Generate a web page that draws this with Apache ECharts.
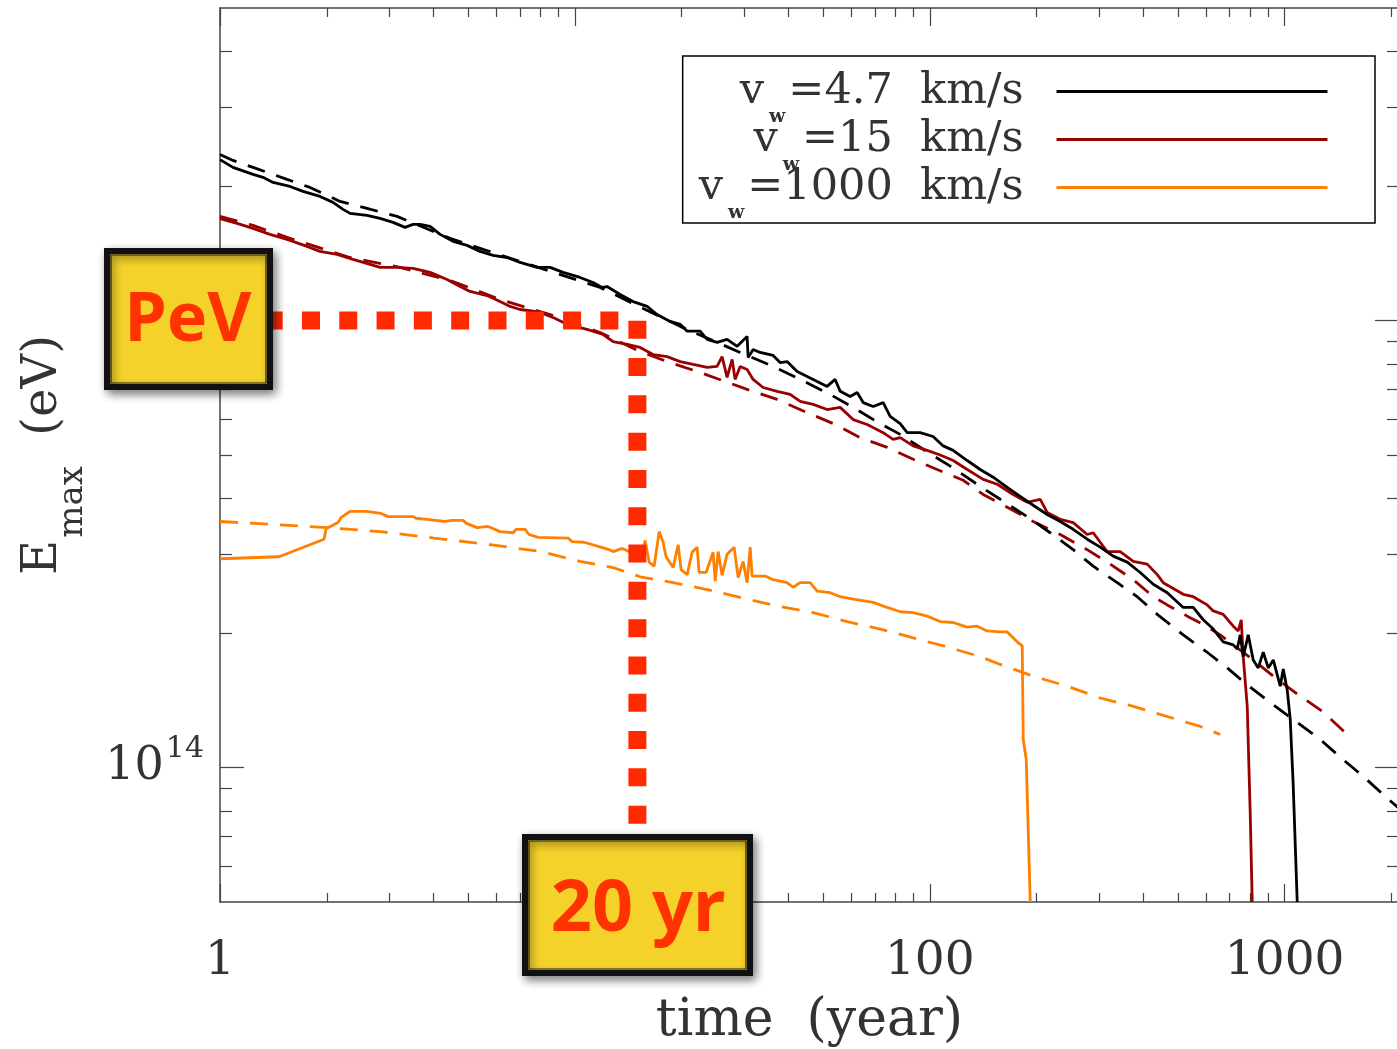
<!DOCTYPE html>
<html><head><meta charset="utf-8">
<script src="https://cdn.jsdelivr.net/npm/echarts@6/dist/echarts.min.js"></script>
<style>html,body{margin:0;padding:0;background:#fff}#c{width:1397px;height:1049px}</style>
</head><body><div id="c"></div>
<script>
// ---------- data (time in years, Emax in eV) ----------
const xTickLabels = [1, 10, 100, 1000];
const xMinorTicks = [2,3,4,5,6,7,8,9,20,30,40,50,60,70,80,90,200,300,400,500,600,700,800,900,2000];
const yTickLabels = [1e14, 1e15];
const yMinorTicks = [6e13,7e13,8e13,9e13,2e14,3e14,4e14,5e14,6e14,7e14,8e14,9e14,2e15,3e15,4e15];

const legendNames = ['v_w=4.7 km/s', 'v_w=15 km/s', 'v_w=1000 km/s'];
const legendValues = ['4.7', '15', '1000'];

const vw47Solid = [[1,22.9e14],[1.088,22.0e14],[1.239,21.22e14],[1.322,20.9e14],[1.411,20.36e14],[1.575,19.94e14],[1.714,19.44e14],[1.913,18.94e14],[2.082,18.37e14],[2.222,17.72e14],[2.325,17.36e14],[2.596,17.18e14],[2.825,16.91e14],[3.074,16.57e14],[3.322,16.15e14],[3.499,16.4e14],[3.662,16.4e14],[3.908,16.23e14],[4.17,15.58e14],[4.537,15.03e14],[4.968,14.72e14],[5.405,14.27e14],[5.882,13.98e14],[6.44,13.83e14],[7.008,13.48e14],[7.826,13.14e14],[8.514,13.14e14],[9.262,12.81e14],[10.34,12.48e14],[11.25,12.16e14],[11.93,11.85e14],[12.32,11.91e14],[13.41,11.43e14],[14.59,11.02e14],[15.98,10.75e14],[17.04,10.31e14],[18.55,9.95e14],[19.8,9.8e14],[20.72,9.46e14],[22.54,9.46e14],[23.59,9.07e14],[25.16,8.93e14],[26.85,9.07e14],[28.66,8.75e14],[30.57,9.21e14],[30.77,8.26e14],[31.79,8.61e14],[33.27,8.48e14],[36.19,8.35e14],[37.87,8.05e14],[39.63,8.09e14],[42.29,7.69e14],[46.93,7.38e14],[51.38,7.12e14],[54.13,7.38e14],[55.92,6.94e14],[59.67,6.76e14],[62.44,6.9e14],[64.92,6.55e14],[69.26,6.42e14],[73.91,6.55e14],[77.34,6.1e14],[82.54,5.88e14],[86.38,5.61e14],[93.96,5.61e14],[102.2,5.5e14],[109.1,5.24e14],[116.4,5.12e14],[127.5,4.86e14],[138.7,4.64e14],[150.9,4.46e14],[165.3,4.23e14],[179.8,4.04e14],[195.6,3.86e14],[214.2,3.68e14],[233.1,3.55e14],[253.6,3.41e14],[277.7,3.24e14],[302.2,3.11e14],[328.7,2.97e14],[360.1,2.88e14],[391.7,2.73e14],[426.3,2.57e14],[466.9,2.46e14],[517.9,2.28e14],[552.6,2.28e14],[589.7,2.14e14],[629.3,2.04e14],[671.3,1.91e14],[716.4,1.88e14],[735.2,1.84e14],[749.7,1.98e14],[764.3,1.77e14],[789.5,1.98e14],[815.6,1.74e14],[842.4,1.67e14],[870.3,1.81e14],[899.2,1.67e14],[928.8,1.74e14],[971.9,1.52e14],[990.9,1.66e14],[1017,1.49e14],[1037,1.28e14],[1057,0.915e14],[1085,0.5e14]];

const vw47Dashed = [[1,23.52e14],[1.088,22.8e14],[1.239,22.0e14],[1.545,20.68e14],[1.793,19.84e14],[2.179,18.46e14],[2.596,17.81e14],[3.154,17.09e14],[4.449,15.26e14],[7.008,13.55e14],[11.78,11.85e14],[19.8,9.7e14],[29.22,8.48e14],[36.19,7.89e14],[43.13,7.38e14],[52.4,6.83e14],[60.83,6.39e14],[71.08,5.93e14],[82.54,5.56e14],[95.8,5.15e14],[114.2,4.72e14],[136,4.3e14],[157.9,3.98e14],[188.2,3.64e14],[218.4,3.35e14],[253.6,3.07e14],[288.8,2.82e14],[337.5,2.59e14],[384.2,2.41e14],[437.5,2.2e14],[517.9,1.98e14],[605,1.81e14],[689,1.67e14],[784.5,1.53e14],[928.8,1.38e14],[1057,1.28e14],[1260,1.155e14],[1435,1.054e14],[1665,0.955e14],[1921,0.861e14],[2100,0.81e14]];

const vw15Solid = [[1,16.9e14],[1.117,16.48e14],[1.239,16.07e14],[1.383,15.58e14],[1.545,15.18e14],[1.759,14.64e14],[1.913,14.27e14],[2.137,14.05e14],[2.371,13.69e14],[2.647,13.35e14],[2.825,13.14e14],[3.154,13.14e14],[3.499,13.08e14],[3.908,12.81e14],[4.363,12.35e14],[4.747,11.91e14],[5.066,11.61e14],[5.657,11.37e14],[6.154,11.02e14],[6.568,10.75e14],[7.008,10.58e14],[7.826,10.47e14],[8.683,10.15e14],[9.506,9.8e14],[10.82,9.55e14],[12.01,9.3e14],[12.82,8.97e14],[14.04,8.84e14],[15.27,8.7e14],[16.61,8.39e14],[18.19,8.3e14],[19.8,8.09e14],[21.54,7.97e14],[23.59,7.85e14],[25.16,7.89e14],[25.99,8.3e14],[26.85,7.46e14],[27.74,8.18e14],[28.28,7.38e14],[29.22,7.89e14],[30.57,7.77e14],[31.79,7.38e14],[33.92,7.08e14],[37.15,6.94e14],[40.42,6.83e14],[43.13,6.59e14],[46.93,6.49e14],[51.38,6.32e14],[55.92,6.39e14],[60.83,6.0e14],[66.61,5.85e14],[73.91,5.61e14],[78.85,5.42e14],[82.54,5.47e14],[89.79,5.24e14],[98.3,5.12e14],[107,5.0e14],[116.4,4.86e14],[127.5,4.64e14],[141.4,4.41e14],[154.9,4.3e14],[171.8,4.08e14],[188.2,3.92e14],[204.8,3.98e14],[214.2,3.72e14],[233.1,3.59e14],[253.6,3.53e14],[277.7,3.32e14],[288.8,3.35e14],[302.2,3.19e14],[316.2,3.04e14],[344,3.04e14],[374.4,2.89e14],[409.9,2.85e14],[437.5,2.7e14],[454.9,2.59e14],[517.9,2.44e14],[552.6,2.41e14],[605,2.31e14],[629.3,2.24e14],[671.3,2.2e14],[716.4,2.07e14],[740,2.02e14],[754.6,2.14e14],[764.3,1.77e14],[784.5,1.37e14],[799.8,0.79e14],[810.3,0.5e14]];

const vw15Dashed = [[1,17.09e14],[1.239,16.32e14],[1.545,15.34e14],[2.325,13.83e14],[3.216,13.14e14],[4.449,12.29e14],[6.154,11.14e14],[8.514,10.31e14],[11.78,9.4e14],[15.27,8.52e14],[18.19,8.09e14],[22.54,7.65e14],[30.57,7.01e14],[37.15,6.66e14],[45.13,6.22e14],[53.43,5.88e14],[63.64,5.47e14],[75.86,5.2e14],[89.79,4.89e14],[104.9,4.64e14],[124.2,4.39e14],[141.4,4.08e14],[165.3,3.82e14],[195.6,3.55e14],[233.1,3.32e14],[277.7,3.07e14],[322.4,2.85e14],[374.4,2.63e14],[426.3,2.41e14],[466.9,2.31e14],[531.6,2.18e14],[589.7,2.09e14],[658.4,1.98e14],[716.4,1.88e14],[815.6,1.74e14],[928.8,1.6e14],[1085,1.46e14],[1285,1.33e14],[1501,1.185e14]];

const vw1000Solid = [[1,2.93e14],[1.467,2.96e14],[1.964,3.24e14],[1.99,3.42e14],[2.15,3.53e14],[2.193,3.62e14],[2.325,3.74e14],[2.579,3.74e14],[2.843,3.7e14],[2.975,3.64e14],[3.499,3.64e14],[3.567,3.61e14],[3.832,3.59e14],[4.307,3.55e14],[4.507,3.57e14],[4.841,3.57e14],[4.935,3.52e14],[5.302,3.44e14],[5.693,3.46e14],[6.154,3.37e14],[6.697,3.35e14],[6.828,3.41e14],[7.238,3.41e14],[7.429,3.32e14],[7.876,3.27e14],[9.568,3.26e14],[9.82,3.2e14],[10.61,3.19e14],[11.7,3.12e14],[12.49,3.07e14],[12.82,3.04e14],[13.59,3.09e14],[14.21,3.04e14],[15.57,3.04e14],[15.77,3.22e14],[16.19,2.88e14],[16.72,2.82e14],[17.28,3.37e14],[17.73,3.19e14],[18.07,2.96e14],[18.92,2.8e14],[19.54,3.15e14],[19.92,2.77e14],[20.72,2.7e14],[21.4,3.03e14],[22.11,3.11e14],[22.39,2.73e14],[23.43,2.73e14],[24.52,3.03e14],[24.85,2.61e14],[25.33,3.04e14],[25.99,2.69e14],[26.85,3.0e14],[28.1,3.11e14],[28.84,2.66e14],[29.79,2.89e14],[30.57,2.59e14],[31.18,3.11e14],[31.58,2.68e14],[34.37,2.68e14],[36.19,2.63e14],[39.63,2.59e14],[41.21,2.53e14],[43.13,2.59e14],[46.02,2.59e14],[48.16,2.48e14],[52.4,2.46e14],[55.92,2.41e14],[60.83,2.38e14],[69.26,2.34e14],[75.86,2.28e14],[82.54,2.23e14],[89.79,2.22e14],[98.3,2.18e14],[107,2.12e14],[116.4,2.11e14],[127.5,2.06e14],[136,2.07e14],[145.1,2.02e14],[157.9,2.01e14],[165.3,2.01e14],[176.3,1.91e14],[182.2,1.87e14],[183.4,1.155e14],[187,1.042e14],[191.9,0.5e14]];

const vw1000Dashed = [[1,3.55e14],[2.002,3.44e14],[2.825,3.37e14],[4.011,3.26e14],[5.768,3.15e14],[8.03,3.04e14],[10.34,2.89e14],[12.82,2.8e14],[15.27,2.67e14],[18.92,2.59e14],[23.59,2.5e14],[29.22,2.4e14],[37.87,2.29e14],[46.93,2.22e14],[58.51,2.12e14],[72.48,2.04e14],[89.79,1.95e14],[111.9,1.86e14],[138.7,1.77e14],[157.9,1.7e14],[195.6,1.6e14],[243.9,1.52e14],[302.2,1.43e14],[374.4,1.37e14],[466.9,1.3e14],[578.2,1.235e14],[658.4,1.185e14]];

// PeV / 20 yr guide
const guideLine = [[1.049,1e15],[15,1e15],[15,0.727e14]];

// ---------- styling ----------
const FONT = "'DejaVu Serif', serif";
const TXT = '#333';
const AX = '#444';
const C_BLACK = '#000000', C_RED = '#990000', C_ORANGE = '#ff7f00';

function xAx(pos, major) {
  return {
    type: 'log', position: pos, min: 1, max: 2100,
    axisLine: { show: major, onZero: false, lineStyle: { color: AX, width: 1.5 } },
    axisTick: { show: true, inside: true, length: major ? 18 : 9, customValues: major ? xTickLabels : xMinorTicks, lineStyle: { color: AX, width: 1.2 } },
    axisLabel: { show: false },
    splitLine: { show: false }
  };
}
function yAx(pos, major) {
  return {
    type: 'log', position: pos, min: 5e13, max: 5e15,
    axisLine: { show: major, onZero: false, lineStyle: { color: AX, width: 1.5 } },
    axisTick: { show: true, inside: true, length: major ? 24 : 12, customValues: major ? yTickLabels : yMinorTicks, lineStyle: { color: AX, width: 1.2 } },
    axisLabel: { show: false },
    splitLine: { show: false }
  };
}

const xAxes = [xAx('bottom', true), xAx('bottom', false), xAx('top', true), xAx('top', false)];
xAxes[0].axisLabel = { show: true, customValues: xTickLabels, margin: 36, fontFamily: FONT, fontSize: 47, color: TXT,
  formatter: v => String(Math.round(v)) };
xAxes[0].name = 'time  (year)';
xAxes[0].nameLocation = 'middle';
xAxes[0].nameGap = 93;
xAxes[0].nameTextStyle = { fontFamily: FONT, fontSize: 52, color: TXT };

const yAxes = [yAx('left', true), yAx('left', false), yAx('right', true), yAx('right', false)];
yAxes[0].axisLabel = { show: true, customValues: yTickLabels, margin: 16, fontFamily: FONT, color: TXT,
  formatter: v => '{b|10}{s|' + Math.round(Math.log10(v)) + '}',
  rich: { b: { fontFamily: FONT, fontSize: 46, color: TXT }, s: { fontFamily: FONT, fontSize: 30, color: TXT, padding: [0, 0, 36, 2] } } };
yAxes[0].name = '{e|E}{m|max}{p|  (eV)}';
yAxes[0].nameLocation = 'middle';
yAxes[0].nameRotate = 90;
yAxes[0].nameGap = 146;
yAxes[0].nameTextStyle = { fontFamily: FONT, color: TXT, rich: {
  e: { fontFamily: FONT, fontSize: 48, lineHeight: 60, color: TXT },
  m: { fontFamily: FONT, fontSize: 34, lineHeight: 60, color: TXT, padding: [58, 0, 0, 2] },
  p: { fontFamily: FONT, fontSize: 48, lineHeight: 60, color: TXT } } };

function lineSeries(name, data, color, dashed, z) {
  return { name, type: 'line', data, xAxisIndex: 0, yAxisIndex: 0, symbol: 'none', showSymbol: false,
    clip: true, z: z, silent: true,
    lineStyle: { color, width: 2.8, type: dashed ? [18, 12] : 'solid' }, itemStyle: { color, opacity: 0 } };
}

const series = [
  lineSeries('v_w=1000 km/s (dashed)', vw1000Dashed, C_ORANGE, true, 3),
  lineSeries('v_w=15 km/s (dashed)', vw15Dashed, C_RED, true, 3),
  lineSeries('v_w=4.7 km/s (dashed)', vw47Dashed, C_BLACK, true, 3),
  lineSeries(legendNames[2], vw1000Solid, C_ORANGE, false, 4),
  lineSeries(legendNames[1], vw15Solid, C_RED, false, 4),
  lineSeries(legendNames[0], vw47Solid, C_BLACK, false, 4),
  { name: 'guide', type: 'line', data: guideLine, symbol: 'none', silent: true, z: 6, clip: false,
    lineStyle: { color: '#ff2a00', width: 18, type: [18, 19.3], cap: 'butt' } }
];

const legendRich = {
  v: { fontFamily: FONT, fontSize: 43, lineHeight: 48, color: TXT },
  w: { fontFamily: FONT, fontSize: 19, fontWeight: 'bold', lineHeight: 48, color: TXT, padding: [52, 3, 0, 5] },
  t: { fontFamily: FONT, fontSize: 43, lineHeight: 48, color: TXT, padding: [0, 28, 0, 0] }
};

const option = {
  animation: false,
  backgroundColor: '#ffffff',
  grid: { left: 220, top: 8, right: -2, bottom: 147, containLabel: false, outerBoundsMode: 'none' },
  xAxis: xAxes,
  yAxis: yAxes,
  legend: {
    data: legendNames, orient: 'vertical', right: 22, top: 56, align: 'right',
    itemWidth: 271, itemHeight: 14, itemGap: -23, selectedMode: false,
    itemStyle: { opacity: 0 },
    lineStyle: { width: 3 },
    padding: [0, 46, 0, 16], borderColor: '#000', borderWidth: 1.5, backgroundColor: '#fff',
    formatter: name => '{v|v}{w|w}{t|=' + legendValues[legendNames.indexOf(name)] + '  km/s}',
    textStyle: { rich: legendRich }
  },
  series,
  graphic: [
    { type: 'rect', z: 100, shape: { x: 107, y: 251, width: 163, height: 136 },
      style: { fill: '#f4d22a', stroke: '#111', lineWidth: 6, shadowBlur: 10, shadowOffsetX: 3, shadowOffsetY: 4, shadowColor: 'rgba(0,0,0,0.45)' } },
    { type: 'rect', z: 101, shape: { x: 111, y: 255, width: 155, height: 128 },
      style: { fill: 'none', stroke: '#222', lineWidth: 1.2 } },
    { type: 'text', z: 102, x: 188, y: 322,
      style: { text: 'PeV', fill: '#ff3300', fontFamily: "'Comic Sans MS', 'Noto Sans', sans-serif", fontWeight: 'bold', fontSize: 68,
        align: 'center', verticalAlign: 'middle', textAlign: 'center', textVerticalAlign: 'middle' } },
    { type: 'rect', z: 100, shape: { x: 525, y: 837, width: 225, height: 136 },
      style: { fill: '#f4d22a', stroke: '#111', lineWidth: 6, shadowBlur: 10, shadowOffsetX: 3, shadowOffsetY: 4, shadowColor: 'rgba(0,0,0,0.45)' } },
    { type: 'rect', z: 101, shape: { x: 529, y: 841, width: 217, height: 128 },
      style: { fill: 'none', stroke: '#222', lineWidth: 1.2 } },
    { type: 'text', z: 102, x: 638, y: 910,
      style: { text: '20 yr', fill: '#ff3300', fontFamily: "'Comic Sans MS', 'Noto Sans', sans-serif", fontWeight: 'bold', fontSize: 72,
        align: 'center', verticalAlign: 'middle', textAlign: 'center', textVerticalAlign: 'middle' } }
  ]
};

const chart = echarts.init(document.getElementById('c'), null, { renderer: 'canvas', width: 1397, height: 1049 });
chart.setOption(option);
</script>
</body></html>
